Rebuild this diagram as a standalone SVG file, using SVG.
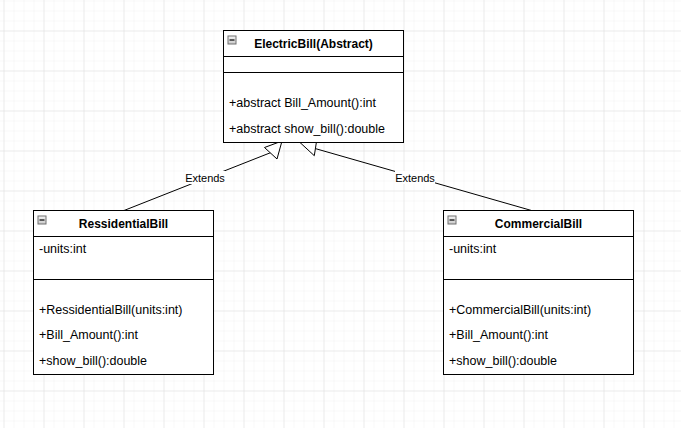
<svg xmlns="http://www.w3.org/2000/svg" width="681" height="428" viewBox="0 0 681 428">
<defs>
<pattern id="minor" x="3.5" y="0.5" width="10" height="10" patternUnits="userSpaceOnUse">
<path d="M0 0H10M0 0V10" fill="none" stroke="#f2f2f2" stroke-width="1"/>
</pattern>
<pattern id="major" x="3.5" y="30.5" width="40" height="40" patternUnits="userSpaceOnUse">
<path d="M0 0H40M0 0V40" fill="none" stroke="#e0e0e0" stroke-width="1"/>
</pattern>
<linearGradient id="ig" x1="0" y1="0" x2="0" y2="1">
<stop offset="0" stop-color="#f4f4f4"/>
<stop offset="1" stop-color="#c8c8c8"/>
</linearGradient>
<g id="icon">
<rect x="0.5" y="0.5" width="8" height="8" fill="url(#ig)" stroke="#707070" stroke-width="1"/>
<path d="M2 4.5H7" stroke="#000" stroke-width="1.2"/>
</g>
</defs>
<style>
.box{fill:#fff;stroke:#000;stroke-width:1}
.ln{fill:none;stroke:#000;stroke-width:1}
.t{font-family:"Liberation Sans",Arial,sans-serif;font-size:12.5px;fill:#000}
.b{font-weight:bold;text-anchor:middle;font-size:12px}
.lbl{font-family:"Liberation Sans",Arial,sans-serif;font-size:11px;fill:#000;text-anchor:middle}
.head{fill:#fff;stroke:#000;stroke-width:1}
</style>
<rect width="681" height="428" fill="#fff"/>
<rect width="681" height="428" fill="url(#minor)"/>
<rect width="681" height="428" fill="url(#major)"/>

<g id="connectors">
<path class="ln" d="M124 210.5L271 152.5"/>
<polygon class="head" points="282,141 264.5,147.5 277,159"/>
<rect x="185" y="171" width="40" height="13" fill="#fff"/>
<text class="lbl" x="205" y="181.5">Extends</text>
<path class="ln" d="M531.5 210.5L315.4 148.6"/>
<polygon class="head" points="300,142.5 316.5,141.5 314.3,155.7"/>
<rect x="395" y="171" width="40" height="13" fill="#fff"/>
<text class="lbl" x="415" y="181.5">Extends</text>
</g>

<g id="ElectricBill">
<rect class="box" x="223.5" y="30.5" width="180" height="112"/>
<path class="ln" d="M223.5 56.5H403.5M223.5 72.5H403.5"/>
<use href="#icon" x="227.5" y="35.5"/>
<text class="t b" x="313.5" y="48">ElectricBill(Abstract)</text>
<text class="t" x="229" y="107">+abstract Bill_Amount():int</text>
<text class="t" x="229" y="133">+abstract show_bill():double</text>
</g>

<g id="RessidentialBill">
<rect class="box" x="33.5" y="210.5" width="180" height="164"/>
<path class="ln" d="M33.5 236.5H213.5M33.5 279.5H213.5"/>
<use href="#icon" x="37.5" y="215.5"/>
<text class="t b" x="123.5" y="228">RessidentialBill</text>
<text class="t" x="39" y="253">-units:int</text>
<text class="t" x="39" y="314">+RessidentialBill(units:int)</text>
<text class="t" x="39" y="339">+Bill_Amount():int</text>
<text class="t" x="39" y="365">+show_bill():double</text>
</g>

<g id="CommercialBill">
<rect class="box" x="443.5" y="210.5" width="190" height="164"/>
<path class="ln" d="M443.5 236.5H633.5M443.5 279.5H633.5"/>
<use href="#icon" x="447.5" y="215.5"/>
<text class="t b" x="538.5" y="228">CommercialBill</text>
<text class="t" x="449" y="253">-units:int</text>
<text class="t" x="449" y="314">+CommercialBill(units:int)</text>
<text class="t" x="449" y="339">+Bill_Amount():int</text>
<text class="t" x="449" y="365">+show_bill():double</text>
</g>
</svg>
